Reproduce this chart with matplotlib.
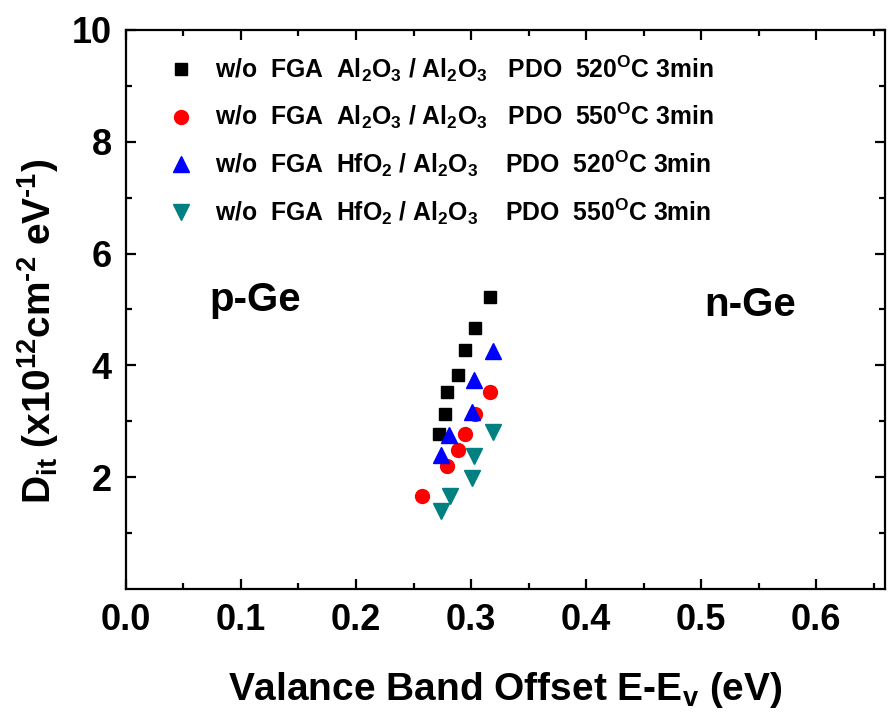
import matplotlib
matplotlib.use("Agg")
import matplotlib.pyplot as plt

plt.rcParams['font.family'] = ['Liberation Sans', 'DejaVu Sans']
plt.rcParams['font.weight'] = 'bold'
plt.rcParams['axes.labelweight'] = 'bold'
plt.rcParams['mathtext.fontset'] = 'custom'
plt.rcParams['mathtext.rm'] = 'Liberation Sans:bold'
plt.rcParams['mathtext.it'] = 'Liberation Sans:bold'
plt.rcParams['mathtext.bf'] = 'Liberation Sans:bold'
plt.rcParams['mathtext.default'] = 'rm'

# --- Data ---
x_al_520 = [0.3168, 0.3038, 0.2951, 0.2887, 0.2789, 0.2774, 0.2722]
y_al_520 = [5.22, 4.67, 4.28, 3.83, 3.53, 3.13, 2.77]

x_al_550 = [0.3165, 0.3038, 0.2951, 0.2884, 0.2789, 0.2577]
y_al_550 = [3.53, 3.13, 2.78, 2.48, 2.20, 1.67]

x_hf_520 = [0.3188, 0.3026, 0.3006, 0.2811, 0.2736]
y_hf_520 = [4.25, 3.73, 3.17, 2.76, 2.40]

x_hf_550 = [0.3188, 0.3026, 0.3009, 0.2817, 0.2739]
y_hf_550 = [2.81, 2.38, 1.99, 1.66, 1.40]

labels = [
    r'w/o  FGA  Al$_2$O$_3$ / Al$_2$O$_3$   PDO  520$^{\rm O}$C 3min',
    r'w/o  FGA  Al$_2$O$_3$ / Al$_2$O$_3$   PDO  550$^{\rm O}$C 3min',
    r'w/o  FGA  HfO$_2$ / Al$_2$O$_3$    PDO  520$^{\rm O}$C 3min',
    r'w/o  FGA  HfO$_2$ / Al$_2$O$_3$    PDO  550$^{\rm O}$C 3min',
]

fig = plt.figure(figsize=(8.91, 7.13), dpi=100)
ax = fig.add_axes([0.1414, 0.174, 0.8519, 0.784])

ax.plot(x_al_520, y_al_520, 's', color='black', ms=9, ls='none', label=labels[0])
ax.plot(x_al_550, y_al_550, 'o', color='#ff0000', ms=10, ls='none', label=labels[1])
ax.plot(x_hf_520, y_hf_520, '^', color='#0000ff', ms=11, ls='none', label=labels[2])
ax.plot(x_hf_550, y_hf_550, 'v', color='#008080', ms=11, ls='none', label=labels[3])

ax.set_xlim(0, 0.66)
ax.set_ylim(0, 10)
ax.set_xticks([0.0, 0.1, 0.2, 0.3, 0.4, 0.5, 0.6])
ax.set_xticks([0.05, 0.15, 0.25, 0.35, 0.45, 0.55, 0.65], minor=True)
ax.set_yticks([2, 4, 6, 8, 10])
ax.set_yticks([1, 3, 5, 7, 9], minor=True)
ax.set_xticklabels(['0.0', '0.1', '0.2', '0.3', '0.4', '0.5', '0.6'])

ax.tick_params(which='both', direction='in', top=True, right=True, width=1.6)
ax.tick_params(which='major', length=7, labelsize=26, pad=10)
ax.tick_params(which='minor', length=4)
for s in ax.spines.values():
    s.set_linewidth(1.6)

ax.set_xlabel(r'Valance Band Offset E-E$_{\rm v}$ (eV)', fontsize=28, labelpad=23)
ax.set_ylabel(r'D$_{\rm it}$ (x10$^{12}$cm$^{\text{-2}}$ eV$^{\text{-1}}$)', fontsize=28, labelpad=8)
ax.yaxis.label.set_y(0.46)

ax.text(0.112, 5.17, 'p-Ge', fontsize=29, ha='center', va='center')
ax.text(0.543, 5.08, 'n-Ge', fontsize=29, ha='center', va='center')

ax.legend(loc='upper left', bbox_to_anchor=(0.037, 0.985), frameon=False,
          fontsize=17.8, handletextpad=0.85, labelspacing=0.69, handlelength=1.0,
          borderaxespad=0.2)

fig.savefig('out.png', dpi=100)
